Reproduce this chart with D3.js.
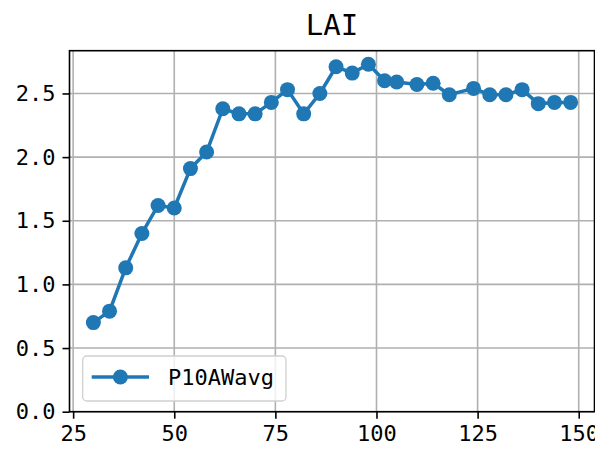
<!DOCTYPE html>
<html><head><meta charset="utf-8">
<script src="https://cdn.jsdelivr.net/npm/d3@7"></script>
<style>
html,body{margin:0;padding:0;background:#fff;}
text{font-family:"DejaVu Sans Mono",monospace;}
</style></head>
<body><svg id="c" width="595" height="455"></svg>
<script>
const days = [30,34,38,42,46,50,54,58,62,66,70,74,78,82,86,90,94,98,102,105,110,114,118,124,128,132,136,140,144,148];
const lai  = [0.70,0.79,1.13,1.40,1.62,1.60,1.91,2.04,2.38,2.34,2.34,2.43,2.53,2.34,2.50,2.71,2.66,2.73,2.60,2.59,2.57,2.58,2.49,2.54,2.49,2.49,2.53,2.42,2.43,2.43];
const xTicks = [25,50,75,100,125,150];
const yTicks = [0.0,0.5,1.0,1.5,2.0,2.5];
const seriesName = "P10AWavg";
const title = "LAI";

const svg = d3.select("#c");
const L=69.5, R=594.5, T=50.7, B=411.7;
const x = d3.scaleLinear().domain([24.1,153.9]).range([L,R]);
const y = d3.scaleLinear().domain([0,2.836]).range([B,T]);
const color="#1f77b4";

// grid
svg.append("g").selectAll("line").data(xTicks).join("line")
  .attr("x1",d=>x(d)).attr("x2",d=>x(d)).attr("y1",T).attr("y2",B)
  .attr("stroke","#b0b0b0").attr("stroke-width",1.6);
svg.append("g").selectAll("line").data(yTicks).join("line")
  .attr("x1",L).attr("x2",R).attr("y1",d=>y(d)).attr("y2",d=>y(d))
  .attr("stroke","#b0b0b0").attr("stroke-width",1.6);

// line + markers
svg.append("path").datum(days.map((d,i)=>[d,lai[i]]))
  .attr("d",d3.line().x(d=>x(d[0])).y(d=>y(d[1])))
  .attr("fill","none").attr("stroke",color).attr("stroke-width",3.5).attr("stroke-linejoin","round");
svg.append("g").selectAll("circle").data(days).join("circle")
  .attr("cx",d=>x(d)).attr("cy",(d,i)=>y(lai[i])).attr("r",7.5).attr("fill",color);

// axes
const xa = svg.append("g").attr("transform",`translate(0,${B})`)
  .call(d3.axisBottom(x).tickValues(xTicks).tickSize(7).tickPadding(7).tickFormat(d3.format("d")));
const ya = svg.append("g").attr("transform",`translate(${L},0)`)
  .call(d3.axisLeft(y).tickValues(yTicks).tickSize(7).tickPadding(7).tickFormat(d3.format(".1f")));
[xa,ya].forEach(a=>{
  a.select(".domain").remove();
  a.selectAll("line").attr("stroke","#000").attr("stroke-width",1.6);
  a.selectAll("text").attr("font-size",22).attr("fill","#000").style("font-family",null);
});
xa.selectAll("text").attr("dy","0.71em");

// frame
svg.append("rect").attr("x",L).attr("y",T).attr("width",R-L).attr("height",B-T)
  .attr("fill","none").attr("stroke","#000").attr("stroke-width",1.6);

// legend
const lg = svg.append("g");
lg.append("rect").attr("x",82.7).attr("y",356).attr("width",203.3).attr("height",45).attr("rx",4)
  .attr("fill","#fff").attr("fill-opacity",0.8).attr("stroke","#d0d0d0").attr("stroke-width",1.3);
lg.append("line").attr("x1",91.7).attr("x2",149).attr("y1",377).attr("y2",377)
  .attr("stroke",color).attr("stroke-width",3.5);
lg.append("circle").attr("cx",120.4).attr("cy",377).attr("r",7.5).attr("fill",color);
lg.append("text").attr("x",168).attr("y",385).attr("font-size",22).attr("fill","#000").text(seriesName);

// title
svg.append("text").attr("x",(L+R)/2).attr("y",34.5).attr("text-anchor","middle")
  .attr("font-size",29).attr("fill","#000").text(title);
</script></body></html>
